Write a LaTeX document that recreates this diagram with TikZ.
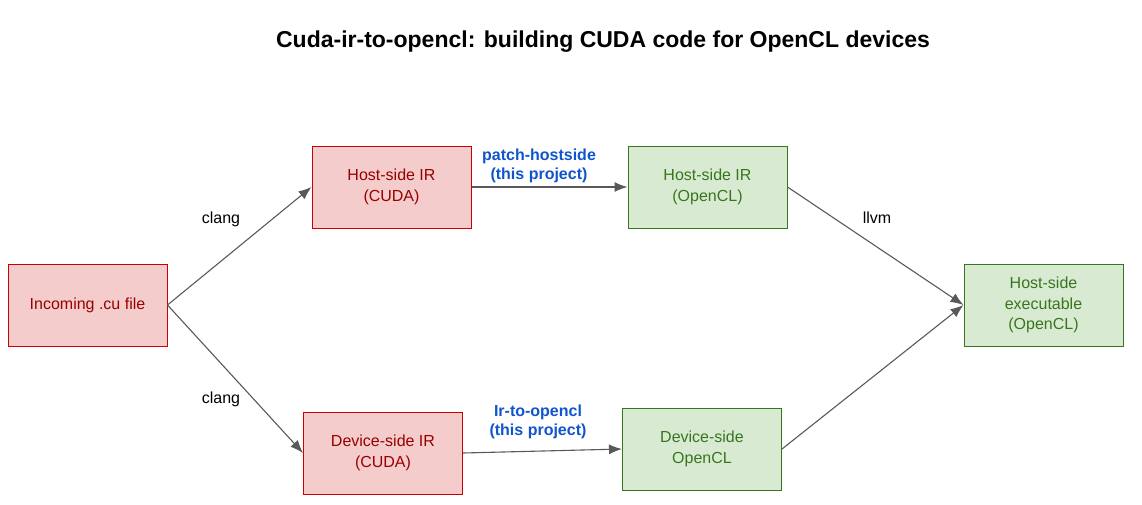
\documentclass[tikz,border=0pt]{standalone}
\usepackage{fontspec}
\setmainfont{Liberation Sans}
\usetikzlibrary{arrows.meta}
\definecolor{redfill}{HTML}{F4CCCC}
\definecolor{redline}{HTML}{CC0000}
\definecolor{redtext}{HTML}{990000}
\definecolor{greenfill}{HTML}{D9EAD3}
\definecolor{greenline}{HTML}{38761D}
\definecolor{bluetext}{HTML}{1155CC}
\definecolor{arrowgray}{HTML}{595959}
\begin{document}
\begin{tikzpicture}[x=1pt, y=-1pt,
	box/.style={minimum width=159pt, minimum height=82pt, inner sep=0pt, line width=1pt, align=center, font=\fontsize{16}{20.5}\selectfont},
	cudabox/.style={box, draw=redline, fill=redfill, text=redtext},
	oclbox/.style={box, draw=greenline, fill=greenfill, text=greenline},
	tool/.style={font=\fontsize{16}{19.5}\selectfont, align=center},
	project/.style={tool, font=\fontsize{16}{19.5}\selectfont\bfseries, text=bluetext},
	flow/.style={draw=arrowgray, line width=1.1pt, -{Latex[length=13pt, width=10pt]}}]
	\useasboundingbox (0,0) rectangle (1142,504);
	
	\node[font=\fontsize{23}{27}\selectfont\bfseries] (title) at (603,42) {Cuda-ir-to-opencl: building CUDA code for OpenCL devices};
	
	\node[cudabox] (in) at (87.5,305) {Incoming .cu file};
	\node[cudabox] (hcuda) at (391.5,187) {Host-side IR\\(CUDA)};
	\node[cudabox] (dcuda) at (383,453) {Device-side IR\\(CUDA)};
	\node[oclbox] (hocl) at (707.5,187) {Host-side IR\\(OpenCL)};
	\node[oclbox] (docl) at (702,449) {Device-side\\OpenCL};
	\node[oclbox] (exe) at (1043.5,305) {Host-side\\executable\\(OpenCL)};
	
	\node[tool] (clangup) at (221,219) {clang};
	\node[tool] (clangdown) at (221,399) {clang};
	\node[tool] (llvm) at (877,218) {llvm};
	\node[project] (patch) at (539,166) {patch-hostside\\(this project)};
	\node[project] (irtoocl) at (538,422) {Ir-to-opencl\\(this project)};
	
	\foreach \i/\j in {in/hcuda, in/dcuda, hcuda/hocl, dcuda/docl, hocl/exe, docl/exe}
	{
		\draw [flow] (\i.east) -- (\j.west);
	}
	
\end{tikzpicture}
\end{document}
